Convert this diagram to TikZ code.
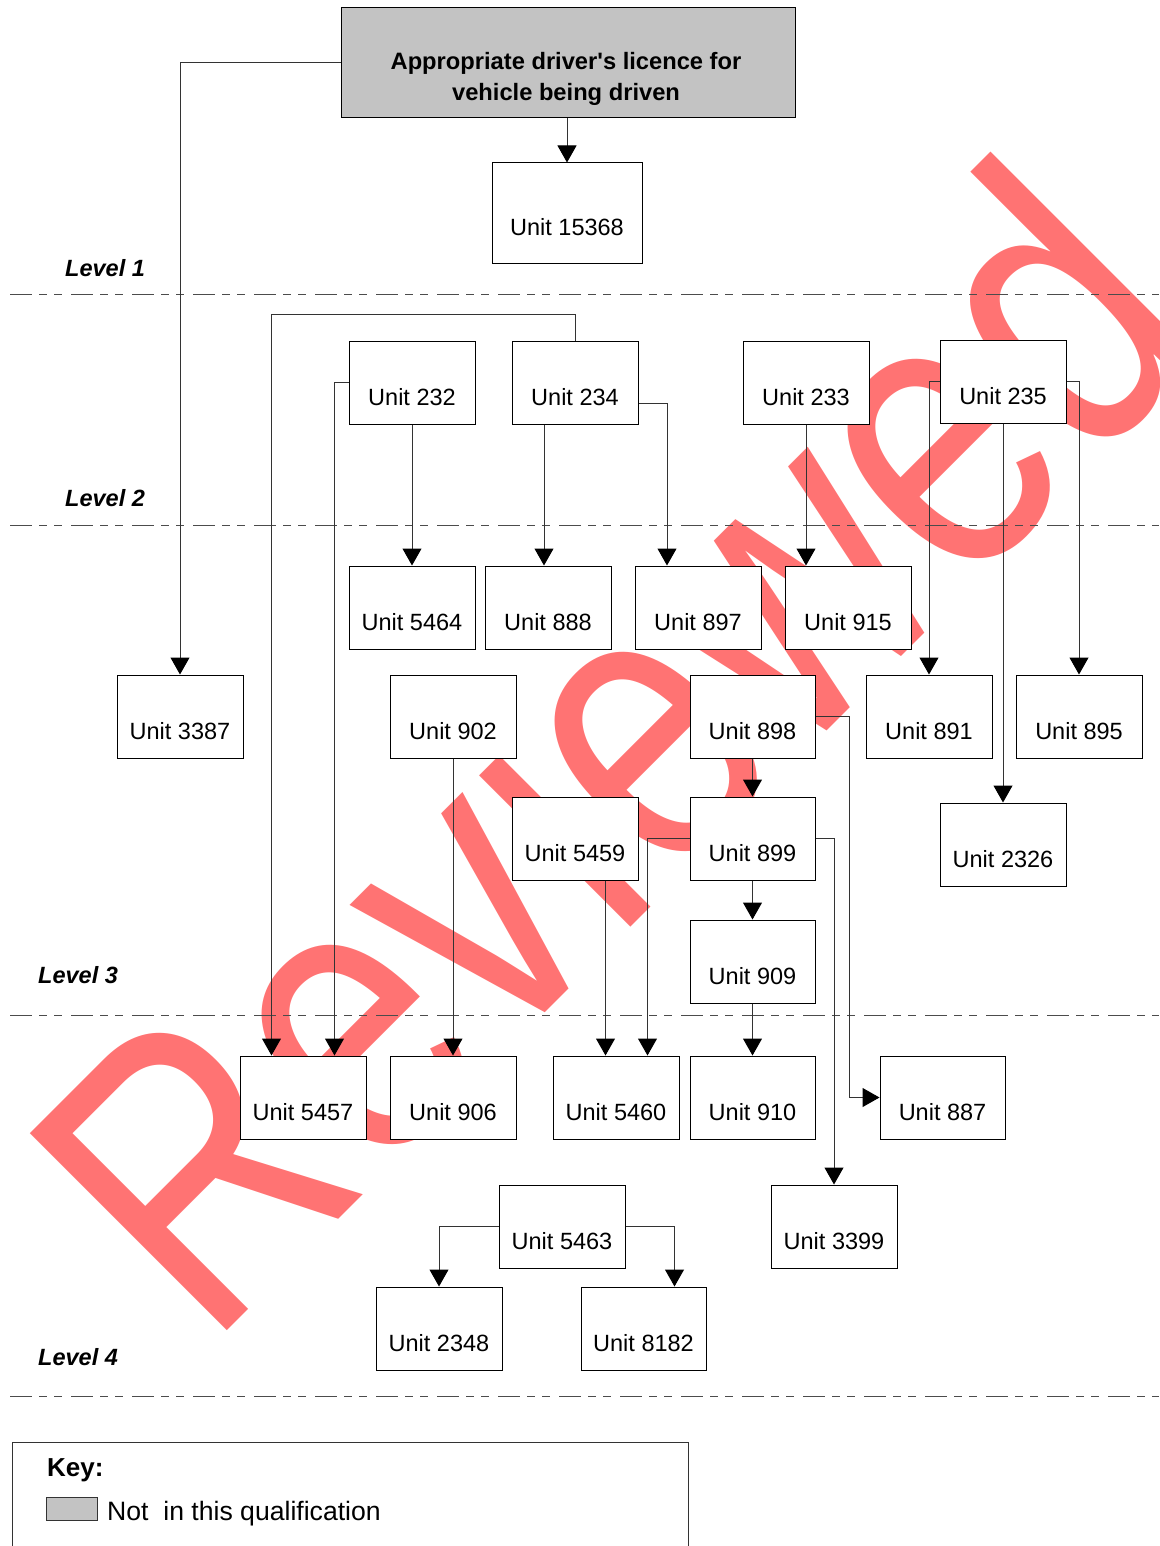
\documentclass[tikz,border=0pt]{standalone}
\usepackage{fontspec}
\setmainfont{Liberation Sans}
\usetikzlibrary{arrows.meta,calc}
\definecolor{wm}{RGB}{255,115,115}
\definecolor{keygray}{RGB}{195,195,195}
\begin{document}
\begin{tikzpicture}[x=1pt,y=-1pt,
  font=\fontsize{23.5}{28}\selectfont,
  unit/.style={draw=black, line width=1pt, fill=white, minimum width=126pt,
    minimum height=83pt, inner sep=0pt, text height=45pt, text depth=0pt},
  conn/.style={draw=black!80, line width=1pt, -{Triangle[length=17pt,width=19pt,fill=black,color=black]}},
  lvl/.style={draw=black!70, line width=1pt, dash pattern=on 22pt off 7pt on 8pt off 7pt on 8pt off 9pt},
  lvltext/.style={font=\bfseries\itshape\fontsize{23.5}{28}\selectfont, anchor=west, inner sep=0pt}
]
\useasboundingbox (0,0) rectangle (1159,1546);

% watermark
\begin{scope}[shift={(208,1350)}, rotate=45, xscale=0.8]
  \node[anchor=base west, inner sep=0pt, transform shape, text=wm,
        font=\fontsize{405}{405}\selectfont] (wmark) at (0,0) {Reviewed};
\end{scope}

% level lines
\coordinate (l1a) at (10,294);  \coordinate (l1b) at (1159,294);
\coordinate (l2a) at (10,525);  \coordinate (l2b) at (1159,525);
\coordinate (l3a) at (10,1015); \coordinate (l3b) at (1159,1015);
\coordinate (l4a) at (10,1396); \coordinate (l4b) at (1159,1396);
\draw[lvl] (l1a) -- (l1b);
\draw[lvl] (l2a) -- (l2b);
\draw[lvl] (l3a) -- (l3b);
\draw[lvl] (l4a) -- (l4b);

\node[lvltext] (lv1) at (65,268) {Level 1};
\node[lvltext] (lv2) at (65,498) {Level 2};
\node[lvltext] (lv3) at (38,975) {Level 3};
\node[lvltext] (lv4) at (38,1357) {Level 4};

% boxes
\node[draw=black, line width=1pt, fill=keygray, minimum width=454pt, minimum height=110pt, inner sep=0pt] (title) at (568,63) {};
\node[font=\bfseries\fontsize{23.7}{31}\selectfont, align=center, inner sep=0pt] (titletext) at (566,79)
  {Appropriate driver\textquotesingle s licence for\\vehicle being driven};

\node[unit, minimum width=150pt, minimum height=100pt] (u15368) at (567,213) {Unit 15368};
\node[unit] (u232) at (412,382.5) {Unit 232};
\node[unit] (u234) at (575,382.5) {Unit 234};
\node[unit] (u233) at (806,382.5) {Unit 233};
\node[unit] (u235) at (1003,381.5) {Unit 235};
\node[unit] (u5464) at (412,607.5) {Unit 5464};
\node[unit] (u888) at (548,607.5) {Unit 888};
\node[unit] (u897) at (698,607.5) {Unit 897};
\node[unit] (u915) at (848,607.5) {Unit 915};
\node[unit] (u3387) at (180,716.5) {Unit 3387};
\node[unit] (u902) at (453,716.5) {Unit 902};
\node[unit, minimum width=125pt] (u898) at (752.5,716.5) {Unit 898};
\node[unit] (u891) at (929,716.5) {Unit 891};
\node[unit] (u895) at (1079,716.5) {Unit 895};
\node[unit] (u5459) at (575,838.5) {Unit 5459};
\node[unit, minimum width=125pt] (u899) at (752.5,838.5) {Unit 899};
\node[unit] (u2326) at (1003,844.5) {Unit 2326};
\node[unit, minimum width=125pt] (u909) at (752.5,961.5) {Unit 909};
\node[unit] (u5457) at (303,1097.5) {Unit 5457};
\node[unit] (u906) at (453,1097.5) {Unit 906};
\node[unit] (u5460) at (616,1097.5) {Unit 5460};
\node[unit, minimum width=125pt] (u910) at (752.5,1097.5) {Unit 910};
\node[unit, minimum width=125pt] (u887) at (942.5,1097.5) {Unit 887};
\node[unit] (u3399) at (834,1226.5) {Unit 3399};
\node[unit] (u5463) at (562,1226.5) {Unit 5463};
\node[unit] (u2348) at (439,1328.5) {Unit 2348};
\node[unit, minimum width=125pt] (u8182) at (643.5,1328.5) {Unit 8182};

% connectors
\draw[conn] (title.west) -| (u3387.north);
\draw[conn] (u15368.north |- title.south) -- (u15368.north);
\draw[conn] (u234.north) -- ++(0,-26) -| ([xshift=32pt]u5457.north west);
\draw[conn] (u232.west) -| ([xshift=-32pt]u5457.north east);
\draw[conn] (u232.south) -- (u5464.north);
\draw[conn] ([xshift=-4pt]u888.north |- u234.south) -- ([xshift=-4pt]u888.north);
\draw[conn] ([yshift=-21pt]u234.east) -| ([xshift=-31pt]u897.north);
\draw[conn] (u233.south) -- (u233.south |- u915.north);
\draw[conn] (u235.west) -| (u891.north);
\draw[conn] (u235.east) -| (u895.north);
\draw[conn] (u235.south) -- (u2326.north);
\draw[conn] (u902.south) -- (u906.north);
\draw[conn] (u898.south) -- (u899.north);
\draw[conn] (u898.east) -- ++(34,0) |- (u887.west);
\draw[conn] (u899.west) -| ([xshift=-32pt]u5460.north east);
\draw[conn] (u899.east) -| (u3399.north);
\draw[conn] ([xshift=53pt]u5460.north west |- u5459.south) -- ([xshift=53pt]u5460.north west);
\draw[conn] (u899.south) -- (u909.north);
\draw[conn] (u909.south) -- (u910.north);
\draw[conn] (u5463.west) -| (u2348.north);
\draw[conn] (u5463.east) -| ([xshift=-32pt]u8182.north east);

% key
\node[draw=black!80, line width=1pt, minimum width=676pt, minimum height=150pt, inner sep=0pt, anchor=north west] (keybox) at (12,1442) {};
\node[font=\bfseries\fontsize{26}{30}\selectfont, anchor=base west, inner sep=0pt] (keytitle) at (47,1476) {Key:};
\node[draw=black!80, line width=1pt, fill=keygray, minimum width=51pt, minimum height=23pt, inner sep=0pt, anchor=north west] (swatch) at (46,1497) {};
\node[font=\fontsize{26.6}{30}\selectfont, anchor=base west, inner sep=0pt] (keytext) at (107,1520) {Not\ \ in this qualification};
\end{tikzpicture}
\end{document}
